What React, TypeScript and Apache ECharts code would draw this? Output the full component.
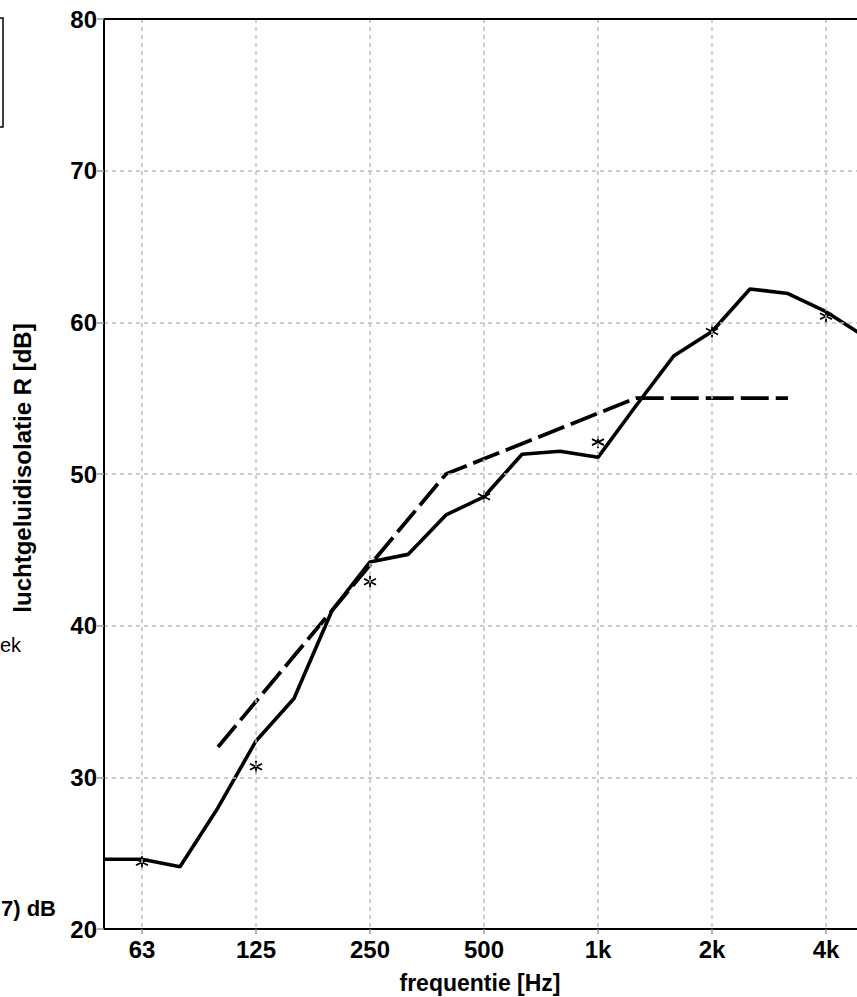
import React, { useEffect, useRef } from 'react';
import * as echarts from 'echarts';

// third-octave band centre frequencies (Hz)
const FREQS = ['50', '63', '80', '100', '125', '160', '200', '250', '315', '400', '500', '630', '800', '1000', '1250', '1600', '2000', '2500', '3150', '4000', '5000'];
// octave ticks and their labels
const TICK_FREQS = ['63', '125', '250', '500', '1000', '2000', '4000'];
const TICK_LABELS = ['63', '125', '250', '500', '1k', '2k', '4k'];
// measured sound reduction index per third-octave band (dB)
const MEASURED = [24.6, 24.6, 24.1, 28.0, 32.4, 35.2, 41.0, 44.2, 44.7, 47.3, 48.5, 51.3, 51.5, 51.1, 54.5, 57.8, 59.4, 62.2, 61.9, 60.7, 59.1];
// shifted reference curve (dB), 100 .. 3150 Hz
const REFERENCE = [null, null, null, 32, 35, 38, 41, 44, 47, 50, 51, 52, 53, 54, 55, 55, 55, 55, 55, null, null];
// octave band values (dB)
const OCTAVE_VALUES = [24.4, 30.7, 42.9, 48.5, 52.1, 59.4, 60.4];
// y axis
const Y_MIN = 20;
const Y_MAX = 80;
const Y_STEP = 10;

const FONT = "'Liberation Sans', Arial, Helvetica, sans-serif";

export default function App() {
  const ref = useRef<HTMLDivElement>(null);
  useEffect(() => {
    const chart = echarts.init(ref.current!, null, { renderer: 'svg' });
    const isTick = (i: number) => TICK_FREQS.includes(FREQS[i]);
    const gridLine = { color: '#bdbdbd', width: 1.5, type: [4, 4] as number[] };
    const frame = { show: true, lineStyle: { color: '#000', width: 2 } };
    chart.setOption({
      animation: false,
      backgroundColor: '#ffffff',
      grid: {
        left: 104,
        top: 19,
        width: 760,
        height: 910,
        show: false,
      },
      xAxis: [
        {
          type: 'category',
          data: FREQS,
          boundaryGap: false,
          z: 5,
          axisLine: frame,
          axisTick: { show: true, length: 5, interval: (i: number) => isTick(i), lineStyle: { color: '#999', width: 1.5 } },
          axisLabel: {
            interval: (i: number) => isTick(i),
            formatter: (v: string) => {
              const k = TICK_FREQS.indexOf(v);
              return k >= 0 ? TICK_LABELS[k] : '';
            },
            color: '#000',
            fontFamily: FONT,
            fontWeight: 'bold',
            fontSize: 24,
            margin: 8,
          },
          splitLine: { show: true, interval: (i: number) => isTick(i), lineStyle: gridLine },
        },
        {
          type: 'category',
          data: FREQS,
          boundaryGap: false,
          position: 'top',
          z: 5,
          axisLine: frame,
          axisTick: { show: false },
          axisLabel: { show: false },
          splitLine: { show: false },
        },
      ],
      yAxis: [
        {
          type: 'value',
          min: Y_MIN,
          max: Y_MAX,
          interval: Y_STEP,
          z: 5,
          axisLine: frame,
          axisTick: { show: true, length: 7, lineStyle: { color: '#999', width: 1.5 } },
          axisLabel: { color: '#000', fontFamily: FONT, fontWeight: 'bold', fontSize: 24, margin: 7 },
          splitLine: { show: true, lineStyle: gridLine },
        },
        {
          type: 'value',
          min: Y_MIN,
          max: Y_MAX,
          interval: Y_STEP,
          position: 'right',
          z: 5,
          axisLine: frame,
          axisTick: { show: false },
          axisLabel: { show: false },
          splitLine: { show: false },
        },
      ],
      graphic: [
        {
          type: 'text',
          x: 22,
          y: 468,
          rotation: Math.PI / 2,
          style: { text: 'luchtgeluidisolatie R [dB]', font: `bold 24px ${FONT}`, fill: '#000', align: 'center', verticalAlign: 'middle' },
        },
        {
          type: 'text',
          x: 480,
          y: 983,
          style: { text: 'frequentie [Hz]', font: `bold 23px ${FONT}`, fill: '#000', align: 'center', verticalAlign: 'middle' },
        },
        {
          type: 'rect',
          shape: { x: -100, y: 18, width: 103, height: 109 },
          style: { fill: 'none', stroke: '#000', lineWidth: 1.5 },
        },
        {
          type: 'text',
          x: 21,
          y: 645,
          style: { text: 'ek', font: `20px ${FONT}`, fill: '#000', align: 'right', verticalAlign: 'middle' },
        },
        {
          type: 'text',
          x: 56,
          y: 908,
          style: { text: '7) dB', font: `bold 22px ${FONT}`, fill: '#000', align: 'right', verticalAlign: 'middle' },
        },
      ],
      series: [
        {
          type: 'line',
          data: MEASURED,
          symbol: 'none',
          lineStyle: { color: '#000', width: 3.6 },
          z: 3,
        },
        {
          type: 'line',
          data: REFERENCE,
          symbol: 'none',
          connectNulls: false,
          lineStyle: { color: '#000', width: 3.8, type: [28, 7] },
          z: 3,
        },
        {
          type: 'scatter',
          data: TICK_FREQS.map((f, k) => [FREQS.indexOf(f), OCTAVE_VALUES[k]]),
          symbol: 'path://M5,0 L5,10 M0.67,2.5 L9.33,7.5 M0.67,7.5 L9.33,2.5',
          symbolSize: 12,
          itemStyle: { color: 'rgba(0,0,0,0)', borderColor: '#000', borderWidth: 1.8, opacity: 1 },
          z: 4,
        },
      ],
    });
    return () => chart.dispose();
  }, []);
  return (
    <div style={{ position: 'fixed', left: 0, top: 0, width: 857, height: 997, overflow: 'hidden', background: '#fff' }}>
      <div ref={ref} style={{ width: 960, height: 997 }} />
    </div>
  );
}
